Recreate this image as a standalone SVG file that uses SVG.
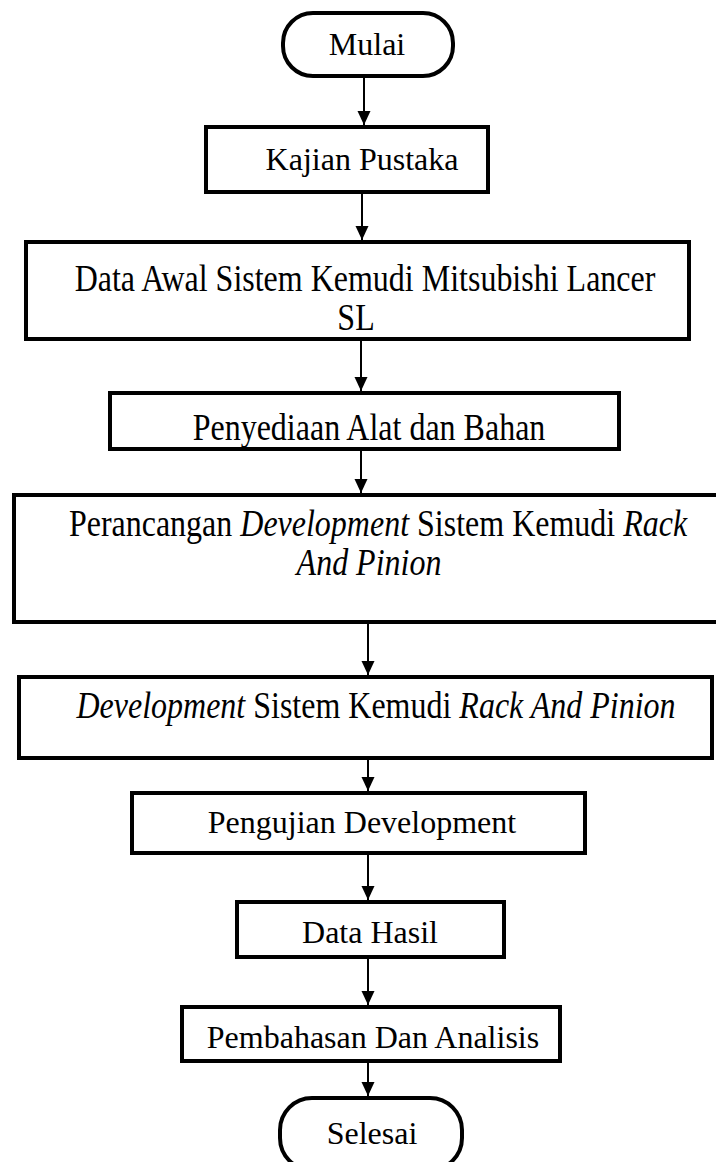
<svg xmlns="http://www.w3.org/2000/svg" width="716" height="1162" viewBox="0 0 716 1162">
<style>
.box{fill:#fff;stroke:#000;stroke-width:4}
.t{font-family:"Liberation Serif","Times New Roman",serif;font-size:32px;fill:#000;text-anchor:middle}
.i{font-style:italic}
.c{stroke:#000;stroke-width:2;fill:none;marker-end:url(#ah)}
</style>
<defs>
<marker id="ah" markerUnits="userSpaceOnUse" markerWidth="14" markerHeight="14" refX="14" refY="6.5" orient="auto">
<path d="M0,0 L14,6.5 L0,13 z" fill="#000"/>
</marker>
</defs>
<rect width="716" height="1162" fill="#fff"/>
<g id="connectors">
<line class="c" x1="364" y1="76" x2="364" y2="125"/>
<line class="c" x1="362" y1="192" x2="362" y2="240"/>
<line class="c" x1="361" y1="339" x2="361" y2="391"/>
<line class="c" x1="361" y1="449" x2="361" y2="493"/>
<line class="c" x1="368" y1="622" x2="368" y2="675"/>
<line class="c" x1="368" y1="758" x2="368" y2="791"/>
<line class="c" x1="368" y1="853" x2="368" y2="900"/>
<line class="c" x1="368" y1="957" x2="368" y2="1005"/>
<line class="c" x1="368" y1="1061" x2="368" y2="1096"/>
</g>
<g id="mulai">
<rect class="box" x="283" y="13" width="170" height="63" rx="30" ry="30"/>
<text class="t" x="367" y="55">Mulai</text>
</g>
<g id="kajian">
<rect class="box" x="206" y="127" width="282" height="65"/>
<text class="t" x="362" y="170">Kajian Pustaka</text>
</g>
<g id="data-awal">
<rect class="box" x="26" y="242" width="663" height="97"/>
<text class="t" transform="translate(365,291) scale(1,1.18)">Data Awal Sistem Kemudi Mitsubishi Lancer</text>
<text class="t" transform="translate(356,330) scale(1,1.18)">SL</text>
</g>
<g id="penyediaan">
<rect class="box" x="110" y="393" width="509" height="56"/>
<text class="t" transform="translate(369,440) scale(1,1.18)">Penyediaan Alat dan Bahan</text>
</g>
<g id="perancangan">
<rect class="box" x="14" y="495" width="716" height="127"/>
<text class="t" transform="translate(378,536) scale(1,1.18)">Perancangan <tspan class="i">Development</tspan> Sistem Kemudi <tspan class="i">Rack</tspan></text>
<text class="t i" transform="translate(369,575) scale(1,1.18)">And Pinion</text>
</g>
<g id="development">
<rect class="box" x="19" y="677" width="693" height="81"/>
<text class="t" transform="translate(376,718) scale(1,1.18)"><tspan class="i">Development</tspan> Sistem Kemudi <tspan class="i">Rack And Pinion</tspan></text>
</g>
<g id="pengujian">
<rect class="box" x="132" y="793" width="453" height="60"/>
<text class="t" x="362" y="833">Pengujian Development</text>
</g>
<g id="data-hasil">
<rect class="box" x="237" y="902" width="267" height="55"/>
<text class="t" x="370" y="943">Data Hasil</text>
</g>
<g id="pembahasan">
<rect class="box" x="182" y="1007" width="378" height="54"/>
<text class="t" x="373" y="1048">Pembahasan Dan Analisis</text>
</g>
<g id="selesai">
<rect class="box" x="280" y="1098" width="182" height="72" rx="32" ry="32"/>
<text class="t" x="372" y="1144">Selesai</text>
</g>
</svg>
